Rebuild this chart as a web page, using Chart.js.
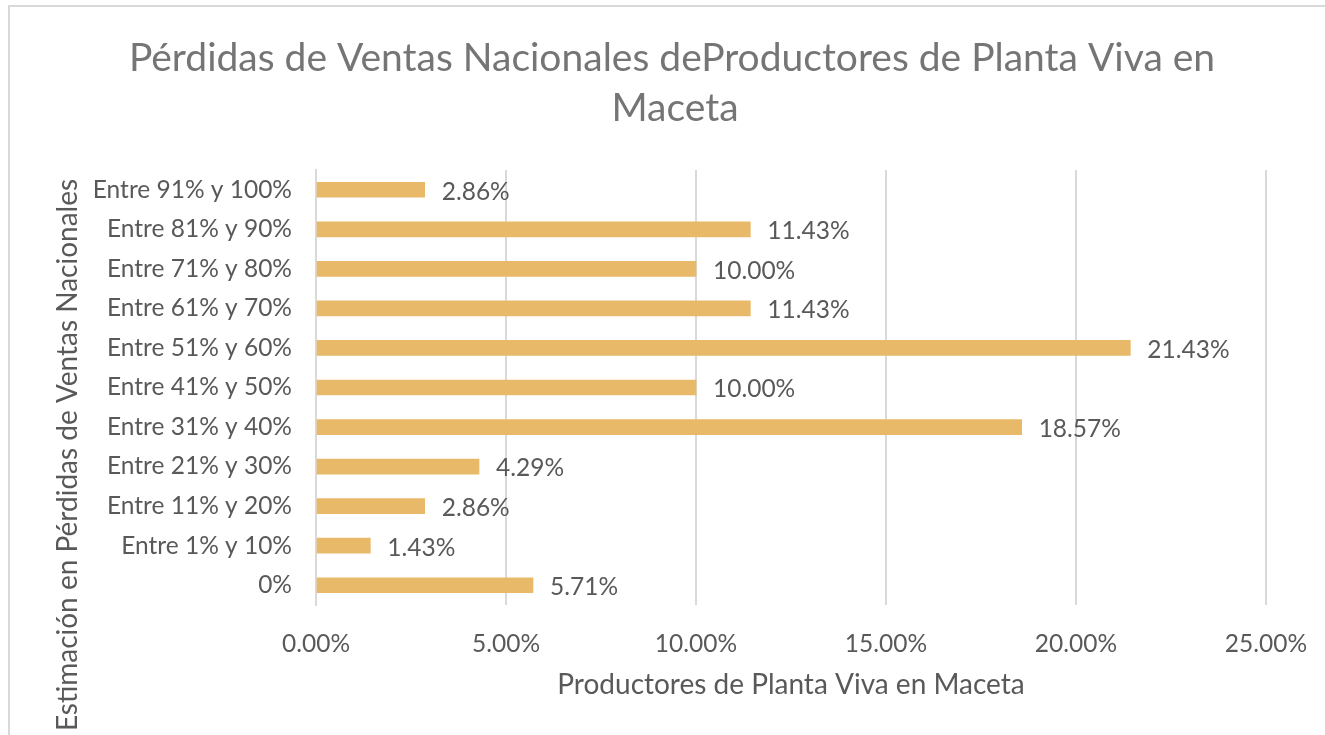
<!DOCTYPE html>
<html>
<head>
<meta charset="utf-8">
<script src="https://cdn.jsdelivr.net/npm/chart.js@4"></script>
<style>
    body { margin: 0; background: #fff; overflow: hidden; }
    #frame {
        position: absolute; left: 8px; top: 5px; width: 1330px; height: 760px;
        border: 2px solid #d9d9d9; box-sizing: border-box;
    }
    #wrap { position: absolute; left: 0; top: 0; width: 1325px; height: 735px; }
</style>
</head>
<body>
<div id="frame"></div>
<div id="wrap"><canvas id="chart" width="1325" height="735"></canvas></div>
<script>
// ===== Data =====
const categories = ["0%", "Entre 1% y 10%", "Entre 11% y 20%", "Entre 21% y 30%", "Entre 31% y 40%",
    "Entre 41% y 50%", "Entre 51% y 60%", "Entre 61% y 70%", "Entre 71% y 80%", "Entre 81% y 90%", "Entre 91% y 100%"];
const values = [5.71, 1.43, 2.86, 4.29, 18.57, 10.00, 21.43, 11.43, 10.00, 11.43, 2.86];
const xTicks = [0, 5, 10, 15, 20, 25];

const FONT = "Lato, 'Open Sans', sans-serif";
const titleLines = ["Pérdidas de Ventas Nacionales deProductores de Planta Viva en", "Maceta"];
const yTitle = "Estimación en Pérdidas de Ventas Nacionales";

// ===== Title, y title and bar labels =====
const textPlugin = {
    id: 'textPlugin',
    afterDraw(chart) {
        const ctx = chart.ctx;
        ctx.save();
        ctx.textBaseline = 'middle';

        // main title
        ctx.fillStyle = '#757575';
        ctx.font = `39px ${FONT}`;
        ctx.textAlign = 'center';
        ctx.fillText(titleLines[0], 672, 58);
        ctx.fillText(titleLines[1], 675, 108);

        // y axis title
        ctx.save();
        ctx.translate(68, 455);
        ctx.rotate(-Math.PI / 2);
        ctx.fillStyle = '#595959';
        ctx.font = `28px ${FONT}`;
        ctx.fillText(yTitle, 0, 0);
        ctx.restore();

        // data labels
        ctx.fillStyle = '#595959';
        ctx.font = `24.5px ${FONT}`;
        ctx.textAlign = 'left';
        chart.getDatasetMeta(0).data.forEach((bar, i) => {
            ctx.fillText(values[i].toFixed(2) + '%', bar.x + 17, bar.y + 2);
        });
        ctx.restore();
    }
};

new Chart(document.getElementById('chart'), {
    type: 'bar',
    data: {
        labels: categories,
        datasets: [{
            data: values,
            backgroundColor: '#E9B96A',
            borderWidth: 0,
            barThickness: 15
        }]
    },
    options: {
        indexAxis: 'y',
        responsive: false,
        animation: false,
        layout: { padding: { left: 0, top: 170, right: 59, bottom: 0 } },
        plugins: { legend: { display: false }, tooltip: { enabled: false }, title: { display: false } },
        scales: {
            x: {
                min: 0, max: 25,
                afterBuildTicks: (scale) => { scale.ticks = xTicks.map(v => ({ value: v })); },
                afterFit: (scale) => { scale.height = 130; scale.paddingRight = 0; scale.paddingLeft = 0; },
                grid: { color: '#d9d9d9', lineWidth: 2, drawTicks: false },
                border: { display: false },
                ticks: {
                    padding: 24, color: '#595959', font: { family: FONT, size: 24.5 },
                    callback: (v) => v.toFixed(2) + '%'
                },
                title: {
                    display: true, text: 'Productores de Planta Viva en Maceta', color: '#595959',
                    font: { family: FONT, size: 28 }, padding: { top: 0, bottom: 33 }
                }
            },
            y: {
                reverse: true,
                afterFit: (scale) => { scale.width = 316; },
                grid: { display: false, drawTicks: false },
                border: { display: true, color: '#d9d9d9', width: 2 },
                ticks: { padding: 24, color: '#595959', font: { family: FONT, size: 24.5 } }
            }
        }
    },
    plugins: [textPlugin]
});
</script>
</body>
</html>
